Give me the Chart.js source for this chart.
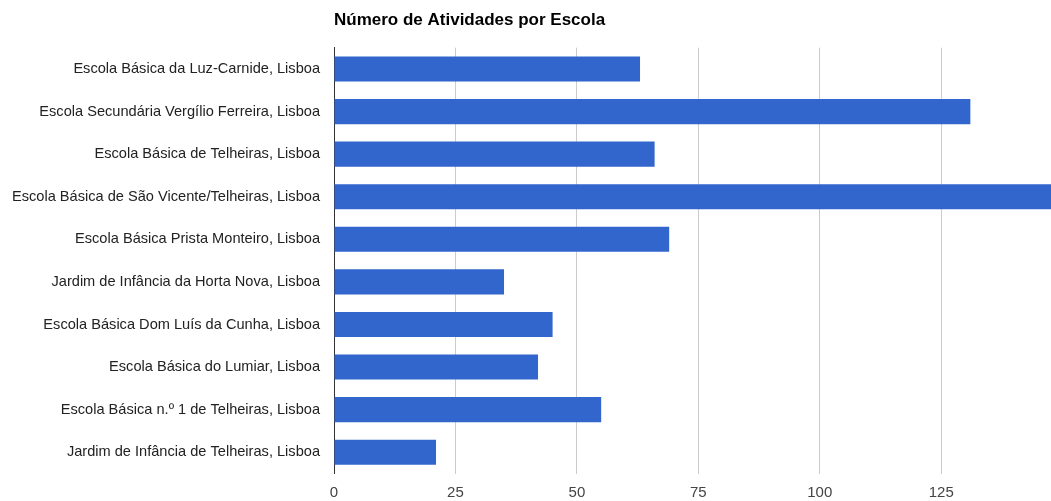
<!DOCTYPE html>
<html>
<head>
<meta charset="utf-8">
<style>
  html, body { margin: 0; padding: 0; background: #fff; overflow: hidden; }
  #wrap { width: 1051px; height: 501px; }
</style>
<script src="https://cdn.jsdelivr.net/npm/chart.js@4/dist/chart.umd.min.js"></script>
</head>
<body>
<div id="wrap"><canvas id="barChart"></canvas></div>
<script>
const schools = [
  'Escola Básica da Luz-Carnide, Lisboa',
  'Escola Secundária Vergílio Ferreira, Lisboa',
  'Escola Básica de Telheiras, Lisboa',
  'Escola Básica de São Vicente/Telheiras, Lisboa',
  'Escola Básica Prista Monteiro, Lisboa',
  'Jardim de Infância da Horta Nova, Lisboa',
  'Escola Básica Dom Luís da Cunha, Lisboa',
  'Escola Básica do Lumiar, Lisboa',
  'Escola Básica n.º 1 de Telheiras, Lisboa',
  'Jardim de Infância de Telheiras, Lisboa'
];
const activities = [63, 131, 66, 150, 69, 35, 45, 42, 55, 21];
const xTicks = [0, 25, 50, 75, 100, 125];

const fontFamily = '"Liberation Sans", Arial, sans-serif';

const barCtx = document.getElementById('barChart').getContext('2d');
const barChart = new Chart(barCtx, {
  type: 'bar',
  data: {
    labels: schools,
    datasets: [{
      label: 'Atividades',
      data: activities,
      backgroundColor: '#3366CC',
      borderWidth: 0,
      barPercentage: 0.59,
      categoryPercentage: 1.0
    }]
  },
  options: {
    indexAxis: 'y',
    responsive: true,
    maintainAspectRatio: false,
    animation: false,
    plugins: {
      legend: { display: false },
      tooltip: { enabled: false },
      title: {
        display: true,
        text: 'Número de Atividades por Escola',
        align: 'start',
        fullSize: false,
        color: '#000',
        font: { family: fontFamily, size: 17, weight: 'bold' },
        padding: { top: 10, bottom: 17.3 }
      }
    },
    scales: {
      x: {
        min: 0,
        max: 147.6,
        afterBuildTicks: scale => {
          scale.ticks = xTicks.map(v => ({ value: v }));
        },
        afterFit: scale => { scale.height = 27.5; },
        grid: {
          color: ctx => (ctx.tick && ctx.tick.value === 0) ? '#333' : '#cccccc',
          drawTicks: false
        },
        border: { display: false },
        ticks: {
          padding: 10,
          color: '#444',
          font: { family: fontFamily, size: 15 }
        }
      },
      y: {
        afterFit: scale => { scale.width = 334; },
        grid: { display: false, drawTicks: false },
        border: { display: true, color: '#333' },
        ticks: {
          padding: 14,
          color: '#222',
          font: { family: fontFamily, size: 14.6 }
        }
      }
    }
  }
});
</script>
</body>
</html>
